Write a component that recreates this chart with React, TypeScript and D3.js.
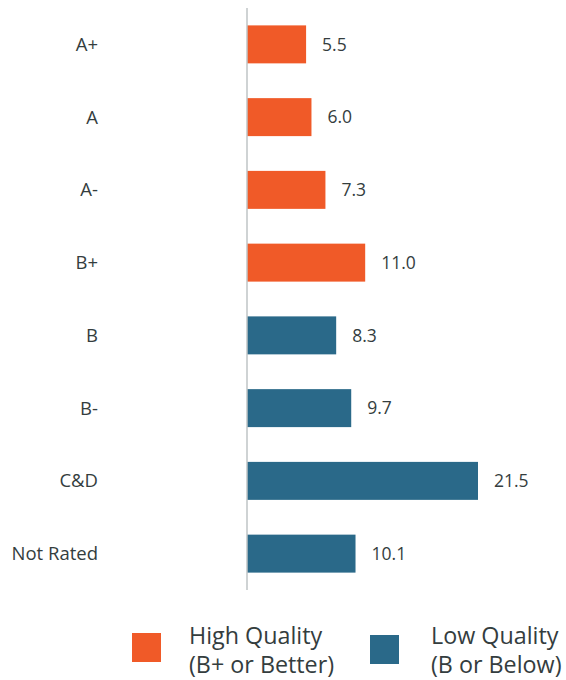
import React from "react";
import * as d3 from "d3";

const categories = ["A+", "A", "A-", "B+", "B", "B-", "C&D", "Not Rated"];
const values = [5.5, 6.0, 7.3, 11.0, 8.3, 9.7, 21.5, 10.1];
const groups = ["high", "high", "high", "high", "low", "low", "low", "low"];
const legendItems = [
  { key: "high", line1: "High Quality", line2: "(B+ or Better)" },
  { key: "low", line1: "Low Quality", line2: "(B or Below)" },
];

const COLORS: Record<string, string> = { high: "#F05A28", low: "#2A6989" };
const TEXT = "#343d3e";
const FONT = "'Open Sans', 'Noto Sans', sans-serif";

export default function App() {
  const W = 566, H = 680;
  const y = d3.scaleBand<string>().domain(categories).range([8, 590]).paddingInner(0.478).paddingOuter(0.239);
  const x = d3.scaleLinear().domain([0, 21.5]).range([247, 478]);
  const legendBox = [{ x: 132, y: 633 }, { x: 370, y: 635 }];
  const legendTextX = [189, 431];
  return (
    <svg width={W} height={H} style={{ position: "absolute", left: 0, top: 0 }} fontFamily={FONT}>
      {categories.map((c, i) => {
        const yc = (y(c) as number) + y.bandwidth() / 2;
        return (
          <g key={c}>
            <text x={98} y={yc} dy="0.35em" textAnchor="end" fontSize={18.5} fill={TEXT}>{c}</text>
            <rect x={x(0)} y={y(c)} width={x(values[i]) - x(0)} height={y.bandwidth()} fill={COLORS[groups[i]]} />
            <text x={x(values[i]) + 16} y={yc} dy="0.35em" fontSize={17.5} fill={TEXT}>{values[i].toFixed(1)}</text>
          </g>
        );
      })}
      <line x1={x(0)} x2={x(0)} y1={8} y2={590} stroke="#bfc4c6" strokeWidth={1.5} />
      {legendItems.map((l, i) => (
        <g key={l.key}>
          <rect x={legendBox[i].x} y={legendBox[i].y} width={29} height={29} fill={COLORS[l.key]} />
          <text x={legendTextX[i]} y={644} fontSize={23.3} fill={TEXT}>{l.line1}</text>
          <text x={legendTextX[i]} y={673} fontSize={23.3} fill={TEXT}>{l.line2}</text>
        </g>
      ))}
    </svg>
  );
}
